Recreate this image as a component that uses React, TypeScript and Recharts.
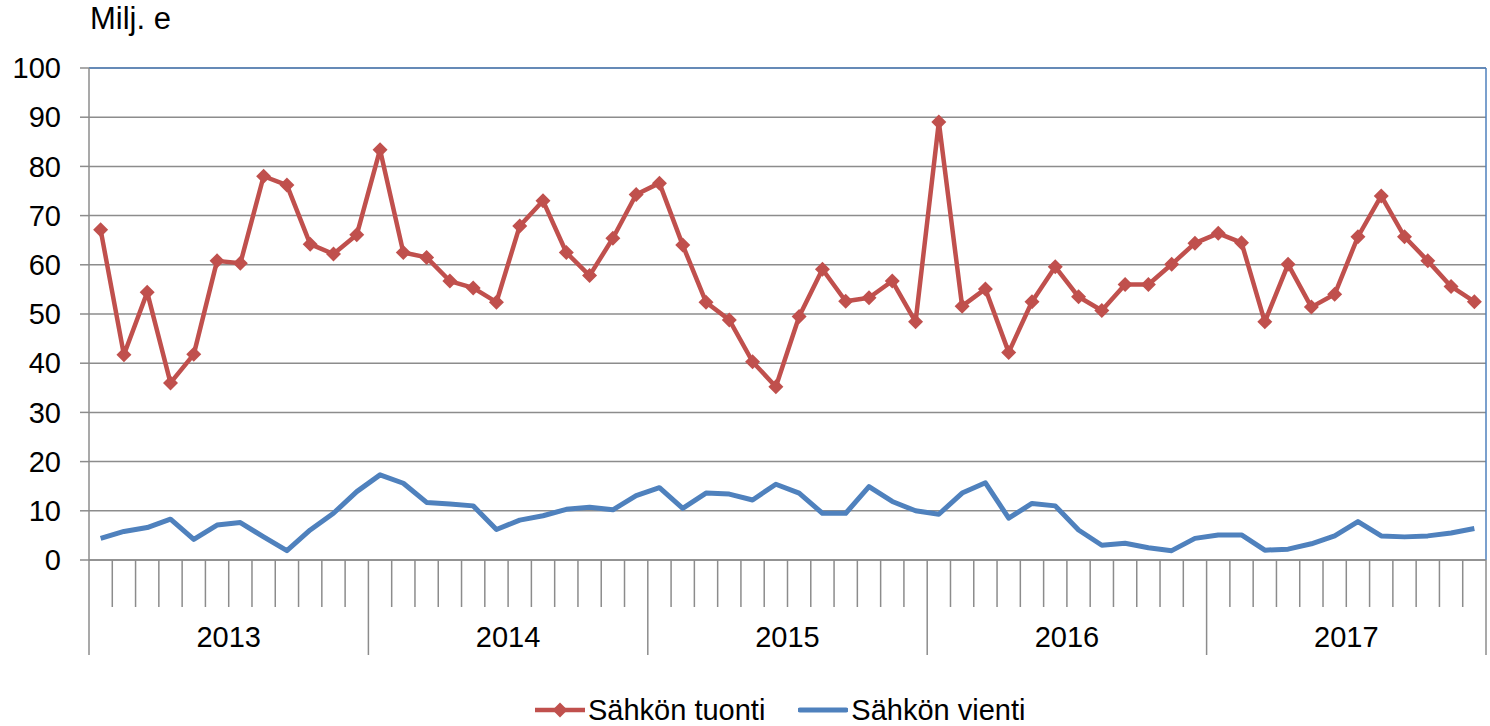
import React from "react";
import {
  LineChart,
  Line,
  XAxis,
  YAxis,
  CartesianGrid,
  ReferenceLine,
} from "recharts";

const years = ["2013", "2014", "2015", "2016", "2017"];

// Sähkön tuonti, milj. e (monthly, 2013-2017)
const tuonti = [
  67.1, 41.7, 54.4, 36.0, 41.8, 60.8, 60.3, 78.0, 76.2, 64.2, 62.2, 66.1,
  83.4, 62.5, 61.5, 56.7, 55.3, 52.4, 67.9, 73.0, 62.5, 57.8, 65.4, 74.3,
  76.6, 64.0, 52.4, 48.8, 40.3, 35.2, 49.5, 59.1, 52.6, 53.3, 56.7, 48.4,
  89.0, 51.6, 55.1, 42.2, 52.5, 59.6, 53.5, 50.7, 56.0, 56.0, 60.1, 64.4,
  66.4, 64.5, 48.4, 60.1, 51.4, 54.0, 65.7, 74.0, 65.7, 60.8, 55.6, 52.5,
];

// Sähkön vienti, milj. e
const vienti = [
  4.4, 5.8, 6.6, 8.3, 4.2, 7.1, 7.6, 4.7, 1.9, 6.1, 9.5, 13.9,
  17.3, 15.6, 11.7, 11.4, 11.0, 6.2, 8.1, 9.0, 10.3, 10.7, 10.2, 13.1,
  14.7, 10.5, 13.6, 13.4, 12.2, 15.4, 13.6, 9.5, 9.5, 14.9, 11.9, 10.0,
  9.3, 13.6, 15.7, 8.5, 11.5, 11.0, 6.1, 3.0, 3.4, 2.5, 1.9, 4.4,
  5.1, 5.1, 2.0, 2.2, 3.3, 4.9, 7.8, 4.9, 4.7, 4.9, 5.5, 6.4,
];

const yTicks = [0, 10, 20, 30, 40, 50, 60, 70, 80, 90, 100];

const RED = "#c0504d";
const BLUE = "#4f81bd";
const GRID = "#8c8c8c";
const FONT = "'Liberation Sans', Arial, sans-serif";
const FS = 29;

const data = tuonti.map((v, i) => ({ pos: i + 0.5, tuonti: v, vienti: vienti[i] }));
const xTicks = Array.from({ length: years.length * 12 + 1 }, (_, i) => i);

const Diamond = (props: any) => {
  const { cx, cy, index } = props;
  if (cx == null || cy == null) return <g key={index} />;
  const r = 7.5;
  return (
    <path
      key={index}
      d={`M${cx},${cy - r} L${cx + r},${cy} L${cx},${cy + r} L${cx - r},${cy} Z`}
      fill={RED}
    />
  );
};

const MonthTick = (props: any) => {
  const { x, y, payload } = props;
  const v = payload.value as number;
  const isYear = v % 12 === 0;
  const label = v % 12 === 6 ? years[(v - 6) / 12] : null;
  return (
    <g>
      <line x1={x} x2={x} y1={y} y2={y + (isYear ? 95 : 47)} stroke={GRID} strokeWidth={1.5} />
      {label && (
        <text x={x} y={y + 87} textAnchor="middle" fontSize={FS} fontFamily={FONT} fill="#000">
          {label}
        </text>
      )}
    </g>
  );
};

export default function App() {
  return (
    <div style={{ position: "absolute", left: 0, top: 0, width: 1490, height: 726, background: "#fff" }}>
      <div
        style={{
          position: "absolute",
          left: 90,
          top: 2,
          fontFamily: FONT,
          fontSize: 31,
          lineHeight: "34px",
          color: "#000",
        }}
      >
        Milj. e
      </div>
      <LineChart width={1490} height={726} data={data} margin={{ top: 68, right: 4, left: 0, bottom: 0 }}>
        <CartesianGrid horizontal vertical={false} stroke={GRID} strokeWidth={1.5} />
        <XAxis
          type="number"
          dataKey="pos"
          domain={[0, 60]}
          ticks={xTicks}
          interval={0}
          height={166}
          tickLine={false}
          tickSize={0}
          tickMargin={0}
          axisLine={{ stroke: GRID, strokeWidth: 1.5 }}
          tick={<MonthTick />}
        />
        <YAxis
          type="number"
          domain={[0, 100]}
          ticks={yTicks}
          interval={0}
          width={89}
          tickSize={9}
          tickMargin={19}
          axisLine={{ stroke: GRID, strokeWidth: 1.5 }}
          tickLine={{ stroke: GRID, strokeWidth: 1.5 }}
          tick={{ fill: "#000", fontSize: FS, fontFamily: FONT }}
        />
        <ReferenceLine y={100} stroke={BLUE} strokeWidth={1.5} />
        <ReferenceLine x={60} stroke={BLUE} strokeWidth={1.5} />
        <Line
          dataKey="vienti"
          stroke={BLUE}
          strokeWidth={5}
          strokeLinejoin="round"
          dot={false}
          activeDot={false}
          isAnimationActive={false}
        />
        <Line
          dataKey="tuonti"
          stroke={RED}
          strokeWidth={4.5}
          strokeLinejoin="round"
          dot={Diamond}
          activeDot={false}
          isAnimationActive={false}
        />
      </LineChart>
      <div
        style={{
          position: "absolute",
          left: 535,
          top: 694,
          display: "flex",
          alignItems: "center",
          fontFamily: FONT,
          fontSize: FS,
          lineHeight: "32px",
          color: "#000",
        }}
      >
        <svg width={50} height={16} style={{ marginRight: 3 }}>
          <line x1={0} x2={50} y1={8} y2={8} stroke={RED} strokeWidth={4.5} />
          <path d="M25,0.5 L32.5,8 L25,15.5 L17.5,8 Z" fill={RED} />
        </svg>
        <span>Sähkön tuonti</span>
        <svg width={50} height={16} style={{ marginLeft: 33, marginRight: 3 }}>
          <line x1={2} x2={48} y1={8} y2={8} stroke={BLUE} strokeWidth={5} strokeLinecap="round" />
        </svg>
        <span>Sähkön vienti</span>
      </div>
    </div>
  );
}
